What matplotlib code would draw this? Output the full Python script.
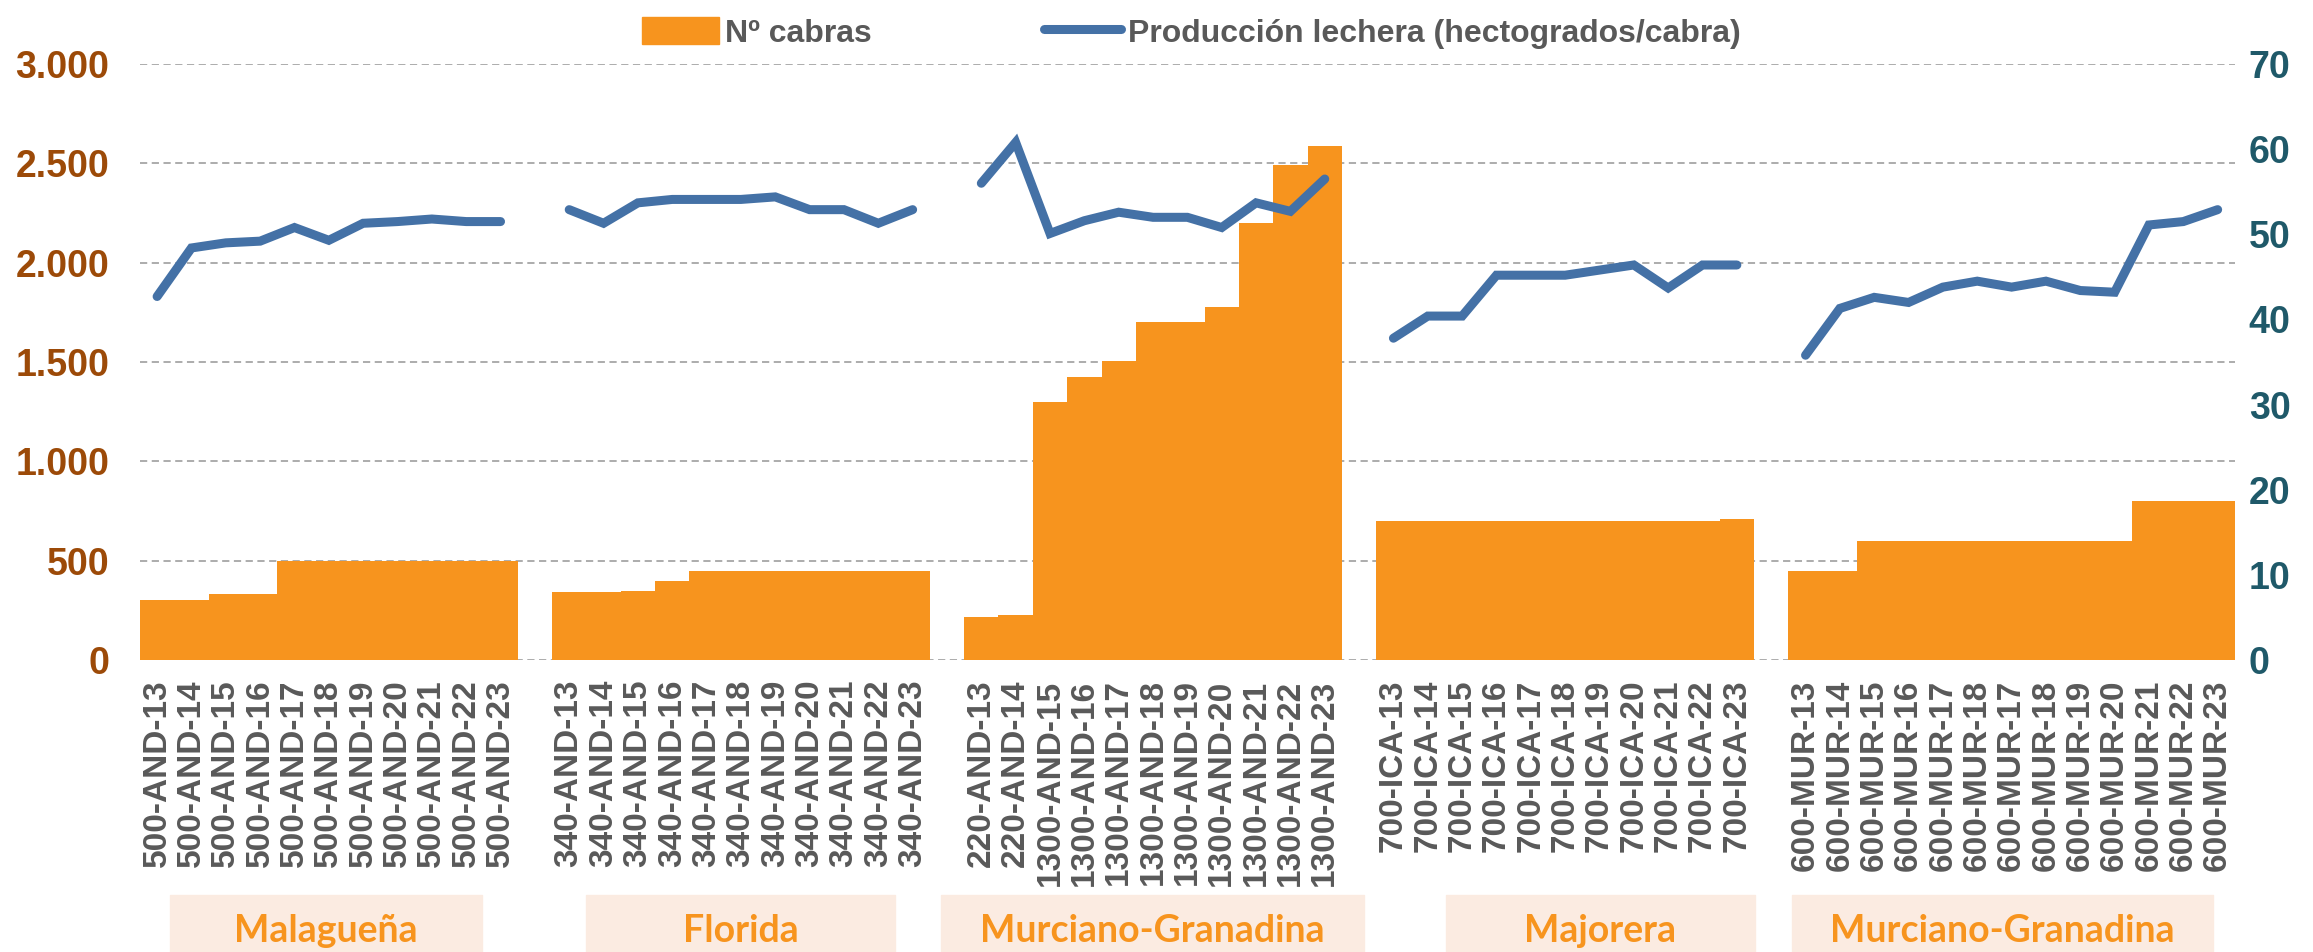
import matplotlib.pyplot as plt
import matplotlib.patches as mpatches
import numpy as np

plt.rcParams['font.family'] = ['Liberation Sans', 'DejaVu Sans']

# datos por raza (5 grupos)
labels_g1 = ['500-AND-13', '500-AND-14', '500-AND-15', '500-AND-16', '500-AND-17', '500-AND-18',
             '500-AND-19', '500-AND-20', '500-AND-21', '500-AND-22', '500-AND-23']
labels_g2 = ['340-AND-13', '340-AND-14', '340-AND-15', '340-AND-16', '340-AND-17', '340-AND-18',
             '340-AND-19', '340-AND-20', '340-AND-21', '340-AND-22', '340-AND-23']
labels_g3 = ['220-AND-13', '220-AND-14', '1300-AND-15', '1300-AND-16', '1300-AND-17', '1300-AND-18',
             '1300-AND-19', '1300-AND-20', '1300-AND-21', '1300-AND-22', '1300-AND-23']
labels_g4 = ['700-ICA-13', '700-ICA-14', '700-ICA-15', '700-ICA-16', '700-ICA-17', '700-ICA-18',
             '700-ICA-19', '700-ICA-20', '700-ICA-21', '700-ICA-22', '700-ICA-23']
labels_g5 = ['600-MUR-13', '600-MUR-14', '600-MUR-15', '600-MUR-16', '600-MUR-17', '600-MUR-18',
             '600-MUR-17', '600-MUR-18', '600-MUR-19', '600-MUR-20', '600-MUR-21', '600-MUR-22',
             '600-MUR-23']

cabras_g1 = [300, 300, 330, 330, 500, 500, 500, 500, 500, 500, 500]
cabras_g2 = [340, 340, 347, 400, 450, 450, 450, 450, 450, 450, 450]
cabras_g3 = [215, 227, 1300, 1423, 1503, 1700, 1700, 1776, 2200, 2490, 2590]
cabras_g4 = [700, 700, 700, 700, 700, 700, 700, 700, 700, 700, 710]
cabras_g5 = [450, 450, 600, 600, 600, 600, 600, 600, 600, 600, 800, 800, 800]

leche_g1 = [42.7, 48.4, 49.0, 49.2, 50.8, 49.3, 51.3, 51.5, 51.8, 51.5, 51.5]
leche_g2 = [52.9, 51.3, 53.7, 54.1, 54.1, 54.1, 54.4, 52.9, 52.9, 51.3, 52.9]
leche_g3 = [56.0, 60.8, 50.1, 51.6, 52.6, 52.0, 52.0, 50.8, 53.7, 52.7, 56.5]
leche_g4 = [37.8, 40.4, 40.4, 45.2, 45.2, 45.2, 45.8, 46.4, 43.7, 46.4, 46.4]
leche_g5 = [35.8, 41.3, 42.6, 42.0, 43.8, 44.5, 43.8, 44.5, 43.4, 43.2, 51.1, 51.5, 52.9]

razas = ['Malagueña', 'Florida', 'Murciano-Granadina', 'Majorera', 'Murciano-Granadina']

# juntar grupos con un hueco vacio entre ellos
grupos_lab = [labels_g1, labels_g2, labels_g3, labels_g4, labels_g5]
grupos_cab = [cabras_g1, cabras_g2, cabras_g3, cabras_g4, cabras_g5]
grupos_lec = [leche_g1, leche_g2, leche_g3, leche_g4, leche_g5]
cats, cabras, leche = [], [], []
for i in range(5):
    if i > 0:
        cats.append('')
        cabras.append(np.nan)
        leche.append(np.nan)
    cats += grupos_lab[i]
    cabras += grupos_cab[i]
    leche += grupos_lec[i]
x = np.arange(len(cats))

naranja = '#F7941E'
azul = '#4471A6'
gris = '#595959'

fig = plt.figure(figsize=(23.13, 9.52), dpi=100)
ax = fig.add_axes([0.0605, 0.3067, 0.9057, 0.626])
ax2 = ax.twinx()

ax.bar(x, cabras, width=1.0, color=naranja, label='Nº cabras')
ax2.plot(x, leche, color=azul, lw=6.5, solid_capstyle='round', solid_joinstyle='miter',
         label='Producción lechera (hectogrados/cabra)')

ax.set_xlim(-0.5, len(cats) - 0.5)
ax.set_ylim(0, 3000)
ax2.set_ylim(0, 70)
ax.set_yticks(np.arange(0, 3001, 500))
ax.set_yticklabels([f'{v:,}'.replace(',', '.') for v in range(0, 3001, 500)])
ax2.set_yticks(np.arange(0, 71, 10))

ax.set_axisbelow(True)
ax.yaxis.grid(True, color='#A6A6A6', linestyle=(0, (4, 2.5)), linewidth=1.3)

for a in (ax, ax2):
    for s in a.spines.values():
        s.set_visible(False)
    a.tick_params(length=0)

ax.tick_params(axis='y', labelsize=27, labelcolor='#9C4A08', pad=22)
ax2.tick_params(axis='y', labelsize=27, labelcolor='#1F5969', pad=10)
for t in ax.get_yticklabels() + ax2.get_yticklabels():
    t.set_fontweight('bold')

ax.set_xticks(x)
ax.set_xticklabels(cats, rotation=90, fontsize=24, fontweight='bold', color=gris)
ax.tick_params(axis='x', pad=14)

# leyenda
h1 = mpatches.Patch(color=naranja)
h2 = plt.Line2D([], [], color=azul, lw=6.5, solid_capstyle='round')
fig.legend([h1, h2], ['Nº cabras', 'Producción lechera (hectogrados/cabra)'],
           loc='upper center', bbox_to_anchor=(0.515, 1.012), ncol=2, frameon=False,
           prop={'size': 23, 'weight': 'bold'}, labelcolor=gris,
           handlelength=2.4, handleheight=0.9, columnspacing=5.4, handletextpad=0.2)

# cajas con el nombre de la raza
cajas = [(170, 482), (586, 895), (941, 1364), (1446, 1755), (1792, 2213)]
W, H = 2313, 952
for (x0, x1), nombre in zip(cajas, razas):
    fig.patches.append(mpatches.Rectangle((x0 / W, 0), (x1 - x0) / W, 57 / H,
                                          transform=fig.transFigure, color='#FBEBE1', zorder=0))
    fig.text((x0 + x1) / 2 / W, 21 / H, nombre, ha='center', va='center',
             fontsize=27, fontweight='bold', color=naranja,
             family=['Lato', 'DejaVu Sans'])

fig.savefig('out.png', dpi=100)
